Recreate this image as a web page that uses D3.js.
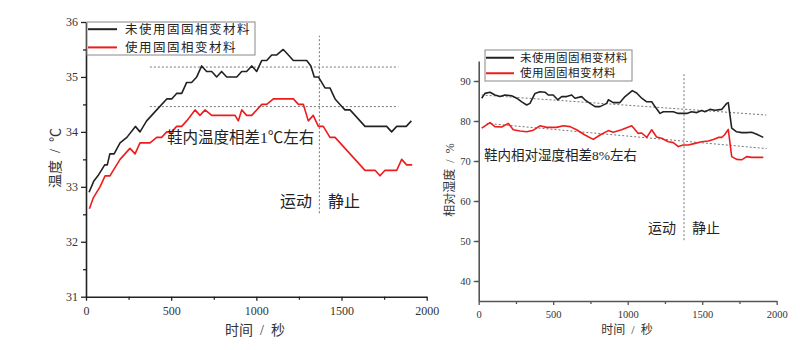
<!DOCTYPE html>
<html><head><meta charset="utf-8">
<script src="https://cdn.jsdelivr.net/npm/d3@7"></script>
<style>
body{margin:0;background:#fff;}
svg{display:block;}
text{font-family:"Liberation Serif","Noto Sans CJK SC",serif;}
</style></head>
<body>
<svg id="c" width="800" height="350"></svg>
<script>
// ---- Left chart: temperature ----
const tempTimeBlack = [18,45,70,90,110,125,140,165,200,240,290,317,356,415,474,503,532,562,591,620,650,679,708,738,767,796,826,885,914,943,973,1002,1032,1061,1090,1120,1158,1188,1217,1296,1320,1340,1364,1403,1432,1462,1491,1520,1550,1638,1765,1794,1824,1880,1910];
const tempBlack = [32.9,33.1,33.2,33.3,33.4,33.4,33.6,33.6,33.8,33.9,34.1,34.0,34.2,34.4,34.6,34.6,34.7,34.7,34.9,34.9,35.0,35.2,35.1,35.1,35.0,35.1,35.0,35.0,35.1,35.1,35.2,35.1,35.3,35.3,35.4,35.4,35.5,35.4,35.3,35.3,35.2,35.0,35.0,34.8,34.8,34.6,34.5,34.4,34.4,34.1,34.1,34.0,34.1,34.1,34.2];
const tempTimeRed = [20,43,82,112,141,160,200,258,288,317,376,415,444,474,503,532,562,591,640,669,699,738,875,894,914,943,973,1032,1061,1100,1217,1247,1276,1305,1334,1364,1393,1432,1462,1638,1697,1726,1755,1824,1853,1882,1915];
const tempRed = [32.6,32.8,33.0,33.2,33.2,33.3,33.5,33.7,33.6,33.8,33.8,33.9,33.9,34.0,34.0,34.1,34.1,34.2,34.4,34.3,34.4,34.3,34.3,34.2,34.4,34.3,34.3,34.5,34.5,34.6,34.6,34.5,34.5,34.2,34.3,34.1,34.1,33.9,33.9,33.3,33.3,33.2,33.3,33.3,33.5,33.4,33.4];
const tempTicks = [31,32,33,34,35,36];
const tempLevels = [35.18,34.46];      // horizontal reference levels
const tempLevelRange = [375,1833];
const tempSplitTime = 1370;
const tempSplitRange = [32.52,35.75];

// ---- Right chart: relative humidity ----
const rhTimeBlack = [20,42,76,109,143,176,221,255,289,322,344,378,411,445,467,500,530,557,590,624,646,691,713,747,781,814,859,870,903,948,982,1031,1060,1094,1128,1161,1183,1217,1239,1306,1340,1396,1429,1463,1496,1519,1552,1586,1631,1664,1675,1698,1731,1765,1798,1832,1866,1910];
const rhBlack = [85.7,86.9,87.2,86.5,86.1,86.5,86.3,85.7,84.8,84.0,84.4,86.9,87.3,87.2,86.5,86.5,85.3,86.1,86.1,86.5,85.7,86.1,85.3,84.4,83.6,83.6,84.4,85.3,84.6,84.6,86.1,87.6,87.0,85.7,84.8,84.8,83.6,81.9,82.3,82.3,81.9,81.9,82.3,82.1,82.6,82.3,82.9,82.7,82.9,84.4,84.6,78.2,77.3,77.1,77.1,77.2,76.7,75.9];
const rhTimeRed = [20,76,109,154,199,232,277,322,367,411,456,523,568,613,657,713,769,814,870,903,959,1027,1071,1094,1128,1161,1194,1228,1273,1306,1340,1373,1407,1452,1496,1541,1575,1608,1631,1649,1675,1698,1731,1765,1798,1832,1910];
const rhRed = [78.2,79.6,78.6,78.5,79.4,77.8,77.5,77.3,77.7,78.8,78.4,78.4,78.8,78.6,77.8,76.5,75.4,76.5,77.6,77.2,77.8,78.8,76.9,77.0,75.9,77.8,76.0,75.7,74.8,74.6,73.6,74.0,74.0,74.4,74.8,75.0,75.4,75.9,75.9,76.5,77.9,71.1,70.4,70.3,71.1,70.9,70.9];
const rhTicks = [40,50,60,70,80,90];
const rhTrendUpper = [[20,86.5],[1930,81.5]];
const rhTrendLower = [[54,79.4],[1932,73.1]];
const rhSplitTime = 1378;
const rhSplitRange = [50.2,92.1];

const timeTicks = [0,500,1000,1500,2000];
const seriesNames = ["未使用固固相变材料","使用固固相变材料"];
const seriesColors = ["#222222","#ee1c1c"];

const svg = d3.select("#c");
const fmt = d3.format("d");

function drawChart(o){
  const g = svg.append("g");
  const x = d3.scaleLinear().domain([0,2000]).range(o.xr);
  const y = d3.scaleLinear().domain(o.yd).range(o.yr);
  // minor ticks
  const xMinor = d3.range(250,2000,500);
  const yMinor = d3.range(o.yd[0]+o.yMinorStep, o.yd[1], o.yMinorStep*2).filter(v=>v>o.yd[0]&&v<o.yd[1]);
  g.append("g").attr("transform",`translate(0,${o.yr[0]})`)
    .call(d3.axisBottom(x).tickValues(xMinor).tickSize(3).tickFormat(""))
    .call(a=>a.select(".domain").remove()).selectAll("line").attr("stroke",o.axisColor).attr("stroke-width",1.3);
  g.append("g").attr("transform",`translate(${o.xr[0]},0)`)
    .call(d3.axisLeft(y).tickValues(yMinor).tickSize(3).tickFormat(""))
    .call(a=>a.select(".domain").remove()).selectAll("line").attr("stroke",o.axisColor).attr("stroke-width",1.3);
  const xa = g.append("g").attr("transform",`translate(0,${o.yr[0]})`)
    .call(d3.axisBottom(x).tickValues(timeTicks).tickFormat(fmt).tickSize(4).tickPadding(6).tickSizeOuter(0));
  const ya = g.append("g").attr("transform",`translate(${o.xr[0]},0)`)
    .call(d3.axisLeft(y).tickValues(o.yTicks).tickFormat(fmt).tickSize(5).tickPadding(3).tickSizeOuter(0));
  [xa,ya].forEach(a=>{
    a.select(".domain").attr("stroke",o.axisColor).attr("stroke-width",1.6);
    a.selectAll(".tick line").attr("stroke",o.axisColor).attr("stroke-width",1.3);
    a.selectAll("text").attr("fill","#333").style("font-size",o.tickFont+"px").style("font-family","'Liberation Serif',serif");
  });
  // reference lines
  o.refs(g,x,y);
  // series
  const line = d3.line().x(d=>x(d[0])).y(d=>y(d[1]));
  o.series.forEach((s,i)=>{
    g.append("path").datum(d3.zip(s[0],s[1])).attr("d",line)
      .attr("fill","none").attr("stroke",seriesColors[i]).attr("stroke-width",1.6).attr("stroke-linejoin","round");
  });
  // legend
  const L = o.legend;
  g.append("rect").attr("x",L.x).attr("y",L.y).attr("width",L.w).attr("height",L.h)
    .attr("fill","#fff").attr("stroke","#888").attr("stroke-width",1);
  seriesNames.forEach((n,i)=>{
    const yy = L.y + L.rows[i];
    g.append("line").attr("x1",L.x+1).attr("x2",L.x+L.lineW).attr("y1",yy).attr("y2",yy)
      .attr("stroke",seriesColors[i]).attr("stroke-width",2);
    g.append("text").attr("x",L.x+L.lineW+L.gap).attr("y",yy).attr("dy","0.36em")
      .style("font-size",L.font+"px").style("letter-spacing",L.ls+"px").style("font-family","'Noto Sans CJK SC',sans-serif").attr("fill","#222").text(n);
  });
  // axis titles
  g.append("text").attr("x",o.xTitle[0]).attr("y",o.xTitle[1]).attr("text-anchor","middle").attr("dy","0.36em")
    .style("font-size",o.titleFont+"px").style("white-space","pre").attr("fill","#333").text("时间  /  秒");
  g.append("text").attr("transform",`translate(${o.yTitle[0]},${o.yTitle[1]}) rotate(-90)`).attr("text-anchor","middle").attr("dy","0.36em")
    .style("font-size",o.titleFont+"px").style("white-space","pre").attr("fill","#333").text(o.yTitleText);
  // annotations
  o.notes.forEach(n=>{
    g.append("text").attr("x",n[0]).attr("y",n[1]).attr("dy","0.36em").style("font-size",n[3]+"px").attr("fill","#222").text(n[2]);
  });
}

const dotted = sel=>sel.attr("stroke","#777").attr("stroke-width",1).attr("stroke-dasharray","2,2").attr("fill","none");

drawChart({
  xr:[86,426.7], yd:[31,36], yr:[296.7,22], yTicks:tempTicks, yMinorStep:0.5,
  axisColor:"#222", tickFont:12, titleFont:14,
  series:[[tempTimeBlack,tempBlack],[tempTimeRed,tempRed]],
  legend:{x:87,y:22,w:168,h:33,rows:[7.2,25.4],lineW:30,gap:8,font:12.5,ls:1.5},
  xTitle:[255,330], yTitle:[55,158], yTitleText:"温度  /  ℃",
  notes:[[167,137,"鞋内温度相差1℃左右",15.5],[280,201,"运动",16],[328,201,"静止",16]],
  refs:(g,x,y)=>{
    tempLevels.forEach(v=>{
      g.append("line").attr("x1",x(tempLevelRange[0])).attr("x2",x(tempLevelRange[1])).attr("y1",y(v)).attr("y2",y(v)).call(dotted);
    });
    g.append("line").attr("x1",x(tempSplitTime)).attr("x2",x(tempSplitTime)).attr("y1",y(tempSplitRange[0])).attr("y2",y(tempSplitRange[1])).call(dotted);
  }
});

drawChart({
  xr:[478.7,776.7], yd:[35,95], yr:[301,61], yTicks:rhTicks, yMinorStep:5,
  axisColor:"#555", tickFont:10.5, titleFont:12,
  series:[[rhTimeBlack,rhBlack],[rhTimeRed,rhRed]],
  legend:{x:485,y:50,w:147,h:31,rows:[7.75,23.25],lineW:29,gap:6,font:11.5,ls:0.5},
  xTitle:[627,330], yTitle:[450,180], yTitleText:"相对湿度  /  %",
  notes:[[484,155,"鞋内相对湿度相差8%左右",13.5],[648,228,"运动",14],[692,228,"静止",14]],
  refs:(g,x,y)=>{
    [rhTrendUpper,rhTrendLower].forEach(t=>{
      g.append("line").attr("x1",x(t[0][0])).attr("y1",y(t[0][1])).attr("x2",x(t[1][0])).attr("y2",y(t[1][1])).call(dotted);
    });
    g.append("line").attr("x1",x(rhSplitTime)).attr("x2",x(rhSplitTime)).attr("y1",y(rhSplitRange[0])).attr("y2",y(rhSplitRange[1])).call(dotted);
  }
});
</script>
</body></html>
